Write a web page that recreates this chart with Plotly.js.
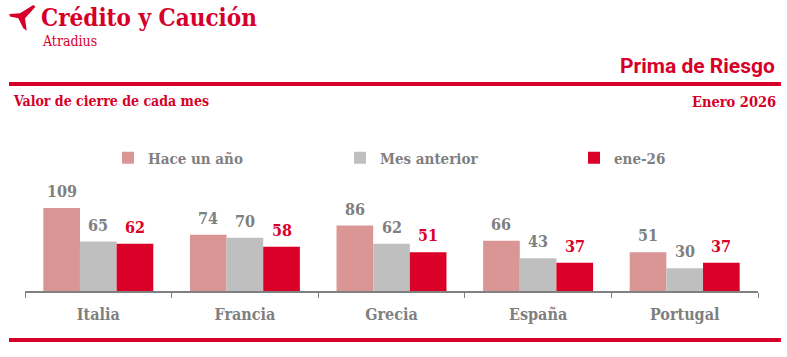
<!DOCTYPE html>
<html><head><meta charset="utf-8">
<script src="https://cdn.plot.ly/plotly-3.0.1.min.js"></script>
<style>html,body{margin:0;padding:0;background:#fff;}#chart{width:787px;height:357px;}</style>
</head><body><div id="chart"></div>
<script>
// ---- data ----
const countries = ['Italia', 'Francia', 'Grecia', 'España', 'Portugal'];
const seriesNames = ['Hace un año', 'Mes anterior', 'ene-26'];
const haceUnAno = [109, 74, 86, 66, 51];
const mesAnterior = [65, 70, 62, 43, 30];
const ene26 = [62, 58, 51, 37, 37];

// ---- style ----
const RED = '#D6002A';
const GRAY = '#7F7F7F';
const barColors = ['#D99694', '#BFBFBF', '#DA0027'];
const labelColors = [GRAY, GRAY, '#DA0027'];
const SLAB = '"DejaVu Serif Condensed", "DejaVu Serif", serif';
const SANS = 'Roboto, "Open Sans", sans-serif';

const W = 787, H = 357;
const M = {l: 25, r: 29, t: 192, b: 66};
const PW = W - M.l - M.r, PH = H - M.t - M.b;
const px = x => (x - M.l) / PW;
const py = y => (H - M.b - y) / PH;

const legendIds = ['legend', 'legend2', 'legend3'];
const legendX = [108, 340, 574];

const series = [haceUnAno, mesAnterior, ene26];
const traces = series.map((vals, i) => ({
  type: 'bar', x: countries, y: vals, name: seriesNames[i],
  marker: {color: barColors[i], line: {width: 0}},
  legend: legendIds[i],
  hoverinfo: 'skip'
}));

const groupW = PW / countries.length;
const barW = groupW * 0.75 / 3;
const annotations = [];
series.forEach((vals, i) => {
  vals.forEach((v, j) => {
    annotations.push({
      xref: 'x', yref: 'y', x: countries[j], y: v,
      xshift: (i - 1) * barW, yanchor: 'bottom', yshift: 5,
      text: String(v), showarrow: false,
      font: {family: SLAB, size: 16, weight: 'bold', color: labelColors[i]}
    });
  });
});

function txt(text, x, y, anchor, font) {
  annotations.push({xref: 'paper', yref: 'paper', x: px(x), y: py(y),
    xanchor: anchor, yanchor: 'middle', text: text, showarrow: false, font: font});
}
txt('Crédito y Caución', 39, 18, 'left', {family: SLAB, size: 24, weight: 'bold', color: RED});
txt('Atradius', 40, 41, 'left', {family: SLAB, size: 14, color: RED});
txt('Prima de Riesgo', 777, 66, 'right', {family: SANS, size: 21, weight: 'bold', color: RED});
txt('Valor de cierre de cada mes', 11, 101, 'left', {family: SLAB, size: 14, weight: 'bold', color: RED});
txt('Enero 2026', 778, 101, 'right', {family: SLAB, size: 14.5, weight: 'bold', color: RED});

function rect(x0, y0, x1, y1, color) {
  return {type: 'rect', xref: 'paper', yref: 'paper', x0: px(x0), x1: px(x1),
    y0: py(y0), y1: py(y1), fillcolor: color, line: {width: 0}, layer: 'above'};
}
const logoPts = [[9.3,14],[20,13.3],[33.3,5],[35.5,6.7],[25,18.3],[26.7,30.7],[23.3,28.3],[18.3,18.3],[10,16.5]];
const logoPath = 'M' + logoPts.map(p => px(p[0]) + ',' + py(p[1])).join('L') + 'Z';

const shapes = [
  rect(9, 82, 781, 86, RED),
  rect(9, 338, 781, 342, RED),
  {type: 'path', xref: 'paper', yref: 'paper', path: logoPath, fillcolor: RED, line: {width: 0}}
];

const layout = {
  width: W, height: H, margin: M,
  paper_bgcolor: '#fff', plot_bgcolor: '#fff',
  barmode: 'group', bargap: 0.25, bargroupgap: 0,
  showlegend: true,
  xaxis: {type: 'category', showline: true, linecolor: '#808080', linewidth: 1.5,
    ticks: 'outside', tickson: 'boundaries', ticklen: 5, tickcolor: '#808080', tickwidth: 1,
    ticklabelstandoff: 8,
    tickfont: {family: SLAB, size: 16, weight: 'bold', color: GRAY}, showgrid: false, zeroline: false},
  yaxis: {range: [0, 130], visible: false, showgrid: false, zeroline: false},
  annotations: annotations,
  shapes: shapes
};
legendIds.forEach((id, i) => {
  layout[id] = {orientation: 'h', x: px(legendX[i]), xanchor: 'left', y: py(158), yanchor: 'middle',
    bgcolor: 'rgba(0,0,0,0)', font: {family: SLAB, size: 15, weight: 'bold', color: GRAY}};
});

Plotly.newPlot('chart', traces, layout, {staticPlot: true, displayModeBar: false});
</script>
</body></html>
